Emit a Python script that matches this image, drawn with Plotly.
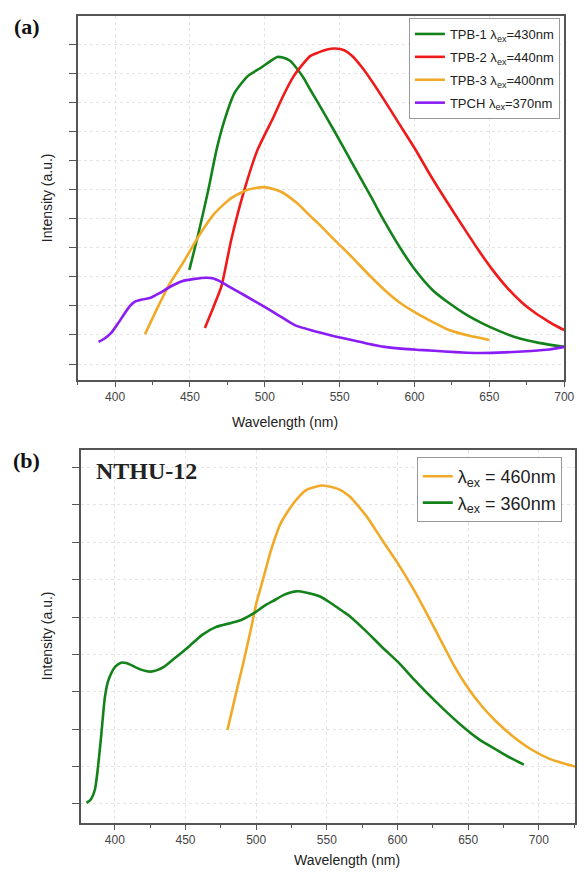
import plotly.graph_objects as go

# ---------------- Panel (a) data ----------------
tpb1_x = [449.6, 455.7, 462.3, 467.8, 473.2, 479.8, 488.6, 497.4, 503, 508.3, 512, 517.1, 521, 525.9, 530.3,
          535.5, 547, 558, 571, 580, 591, 601, 612, 623, 634, 645, 656, 667, 684, 700]
tpb1_y = [3.24, 4.5, 6.0, 7.38, 8.41, 9.33, 9.91, 10.2, 10.4, 10.57, 10.55, 10.43, 10.2, 9.85, 9.45,
          9.0, 7.97, 6.95, 5.75, 4.9, 3.95, 3.2, 2.55, 2.1, 1.72, 1.41, 1.15, 0.93, 0.72, 0.59]

tpb2_x = [460, 466, 471, 477.6, 486.4, 495.2, 506.1, 512, 519.3, 525, 530.3, 535.5, 541, 547, 553, 558,
          564.5, 572, 579.6, 590, 601, 610, 619, 634, 643, 652, 662, 671.7, 680, 689, 695, 700]
tpb2_y = [1.24, 2.0, 2.67, 4.28, 6.0, 7.38, 8.53, 9.2, 9.91, 10.3, 10.6, 10.72, 10.82, 10.86, 10.8, 10.62,
          10.24, 9.7, 9.1, 8.25, 7.35, 6.55, 5.8, 4.6, 3.9, 3.25, 2.62, 2.12, 1.78, 1.48, 1.3, 1.17]

tpb3_x = [420, 428, 436.8, 445, 455.7, 466.7, 477.6, 488.6, 499.6, 510.5, 521.5, 530.3, 535.5, 547, 558,
          569, 580, 590, 601, 612, 623, 636, 650]
tpb3_y = [1.03, 1.9, 2.79, 3.45, 4.39, 5.2, 5.71, 6.0, 6.09, 5.94, 5.54, 5.1, 4.85, 4.25, 3.69,
          3.1, 2.55, 2.12, 1.76, 1.45, 1.17, 0.98, 0.83]

tpch_x = [389, 393, 397.4, 402, 406.6, 410, 413, 418, 423.7, 430, 436.8, 444.7, 453, 461, 465.8, 471, 477.6,
          487, 498.7, 510, 520, 535.5, 547, 558, 569, 580, 593, 606, 620, 635, 645, 660, 678, 690, 700]
tpch_y = [0.76, 0.88, 1.07, 1.4, 1.76, 2.0, 2.14, 2.22, 2.28, 2.45, 2.66, 2.85, 2.93, 2.97, 2.94, 2.82, 2.62,
          2.35, 2.0, 1.65, 1.34, 1.10, 0.95, 0.83, 0.7, 0.59, 0.52, 0.48, 0.43, 0.39, 0.38, 0.4, 0.45, 0.5, 0.59]

names_a = ["TPB-1 λ<sub>ex</sub>=430nm", "TPB-2 λ<sub>ex</sub>=440nm",
           "TPB-3 λ<sub>ex</sub>=400nm", "TPCH λ<sub>ex</sub>=370nm"]

# ---------------- Panel (b) data ----------------
ex360_x = [380, 383, 386, 388, 390.3, 392.9, 395, 397.5, 400.5, 404.4, 408, 411.3, 418, 425.1, 430, 434.4,
           441, 448.3, 455, 462.1, 471.3, 482.9, 489.8, 499, 505, 512.9, 520, 529, 535, 545.2, 553, 561.4,
           566, 577, 589, 600.8, 612, 623.5, 635, 646.5, 658, 670, 680, 689.4]
ex360_y = [0.03, 0.12, 0.4, 0.95, 1.8, 2.83, 3.25, 3.5, 3.68, 3.78, 3.77, 3.72, 3.6, 3.54, 3.58, 3.66,
           3.86, 4.08, 4.3, 4.53, 4.73, 4.85, 4.93, 5.12, 5.28, 5.45, 5.6, 5.69, 5.66, 5.55, 5.37, 5.15,
           5.03, 4.65, 4.2, 3.78, 3.32, 2.87, 2.45, 2.06, 1.72, 1.45, 1.23, 1.05]

ex460_x = [479.7, 485.2, 490.9, 496.7, 500.2, 504.8, 510.6, 517.5, 526.7, 535.9, 547.5, 559, 566, 578, 589,
           600, 612, 622, 631, 640, 649, 660, 670, 682, 695, 708, 721, 725.5]
ex460_y = [1.98, 2.87, 3.77, 4.75, 5.38, 6.0, 6.8, 7.52, 8.06, 8.41, 8.52, 8.41, 8.23, 7.7, 7.07,
           6.45, 5.7, 5.0, 4.35, 3.7, 3.15, 2.6, 2.2, 1.8, 1.45, 1.2, 1.05, 1.0]

names_b = ["λ<sub>ex</sub> = 460nm", "λ<sub>ex</sub> = 360nm"]

GREEN = "#14821a"
RED = "#f01a1a"
YELLOW = "#f0aa28"
PURPLE = "#8a1cf5"

W, H = 587, 873


def px_x(p):
    return p / W


def px_y(p):
    return 1 - p / H


fig = go.Figure()

for i, (xs, ys, nm, col) in enumerate([(tpb1_x, tpb1_y, names_a[0], GREEN), (tpb2_x, tpb2_y, names_a[1], RED),
                                       (tpb3_x, tpb3_y, names_a[2], YELLOW), (tpch_x, tpch_y, names_a[3], PURPLE)]):
    fig.add_trace(go.Scatter(x=xs, y=ys, name=nm, mode="lines", legendgroup="a%d" % i,
                             line=dict(color=col, width=2.6, shape="spline", smoothing=0.6),
                             xaxis="x", yaxis="y", legend="legend"))

for i, (xs, ys, nm, col) in enumerate([(ex460_x, ex460_y, names_b[0], YELLOW), (ex360_x, ex360_y, names_b[1], GREEN)]):
    fig.add_trace(go.Scatter(x=xs, y=ys, name=nm, mode="lines", legendgroup="b%d" % i,
                             line=dict(color=col, width=2.6, shape="spline", smoothing=0.6),
                             xaxis="x2", yaxis="y2", legend="legend2"))

axis_common = dict(showline=True, linecolor="#555555", linewidth=1.5, mirror=True,
                   ticks="outside", tickcolor="#555555", tickwidth=1.3,
                   showgrid=True, gridcolor="#e4e4e4", griddash="dot", gridwidth=1,
                   zeroline=False, tickfont=dict(family="Arial, Liberation Sans", size=12, color="#444444"))

fig.update_layout(
    width=W, height=H,
    margin=dict(l=0, r=0, t=0, b=0),
    paper_bgcolor="white", plot_bgcolor="white",
    xaxis=dict(domain=[px_x(79), px_x(574)], range=[375, 700], anchor="y",
               tick0=400, dtick=50, ticklen=5,
               minor=dict(ticks="outside", dtick=25, tick0=375, ticklen=3, tickcolor="#555555", showgrid=False),
               **axis_common),
    yaxis=dict(domain=[px_y(380), px_y(16)], range=[-0.55, 11.98], anchor="x",
               tick0=0, dtick=1, ticklen=7, showticklabels=False, **axis_common),
    xaxis2=dict(domain=[px_x(82), px_x(585)], range=[375.8, 725.6], anchor="y2",
                tick0=400, dtick=50, ticklen=5,
                minor=dict(ticks="outside", dtick=25, tick0=375, ticklen=3, tickcolor="#555555", showgrid=False),
                **axis_common),
    yaxis2=dict(domain=[px_y(823), px_y(450)], range=[-0.51, 9.47], anchor="x2",
                tick0=0, dtick=1, ticklen=7, showticklabels=False, **axis_common),
    legend=dict(x=px_x(416), y=px_y(18), xanchor="left", yanchor="top",
                bgcolor="white", bordercolor="#999999", borderwidth=1,
                font=dict(family="Arial, Liberation Sans", size=13, color="#222222"),
                tracegroupgap=3, itemwidth=30),
    legend2=dict(x=px_x(424), y=px_y(457), xanchor="left", yanchor="top",
                 bgcolor="white", bordercolor="#999999", borderwidth=1,
                 font=dict(family="Arial, Liberation Sans", size=18, color="#222222"),
                 tracegroupgap=0, itemwidth=30),
    showlegend=True,
)

ann_font = dict(family="Arial, Liberation Sans", size=14, color="#222222")
annotations = [
    dict(text="Wavelength (nm)", x=px_x(290), y=px_y(422), xref="paper", yref="paper",
         showarrow=False, font=ann_font, xanchor="center", yanchor="middle"),
    dict(text="Wavelength (nm)", x=px_x(353), y=px_y(860), xref="paper", yref="paper",
         showarrow=False, font=ann_font, xanchor="center", yanchor="middle"),
    dict(text="Intensity (a.u.)", x=px_x(48), y=px_y(198), xref="paper", yref="paper",
         showarrow=False, font=ann_font, textangle=-90, xanchor="center", yanchor="middle"),
    dict(text="Intensity (a.u.)", x=px_x(48), y=px_y(636), xref="paper", yref="paper",
         showarrow=False, font=ann_font, textangle=-90, xanchor="center", yanchor="middle"),
    dict(text="<b>(a)</b>", x=px_x(27), y=px_y(26), xref="paper", yref="paper",
         showarrow=False, font=dict(family="Liberation Serif, Times New Roman", size=22, color="#111111"),
         xanchor="center", yanchor="middle"),
    dict(text="<b>(b)</b>", x=px_x(27), y=px_y(460), xref="paper", yref="paper",
         showarrow=False, font=dict(family="Liberation Serif, Times New Roman", size=22, color="#111111"),
         xanchor="center", yanchor="middle"),
    dict(text="<b>NTHU-12</b>", x=px_x(96), y=px_y(471), xref="paper", yref="paper",
         showarrow=False, font=dict(family="Liberation Serif, Times New Roman", size=24, color="#222222"),
         xanchor="left", yanchor="middle"),
]
fig.update_layout(annotations=annotations)

fig.write_html("out.html", config={"displayModeBar": False},
               post_script="document.body.style.margin='0px';document.body.style.overflow='hidden';")
